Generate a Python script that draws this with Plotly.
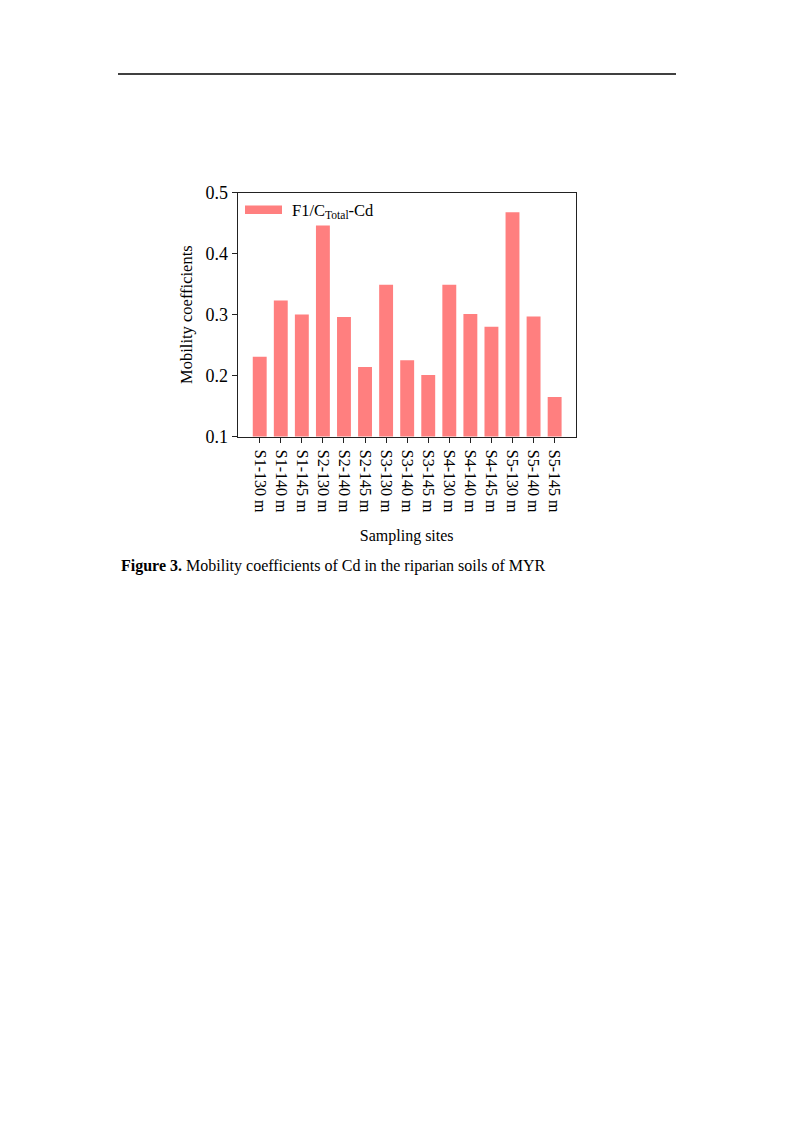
import plotly.graph_objects as go

sites = ["S1-130 m", "S1-140 m", "S1-145 m", "S2-130 m", "S2-140 m", "S2-145 m",
         "S3-130 m", "S3-140 m", "S3-145 m", "S4-130 m", "S4-140 m", "S4-145 m",
         "S5-130 m", "S5-140 m", "S5-145 m"]
mobility = [0.231, 0.323, 0.300, 0.446, 0.296, 0.214,
            0.349, 0.225, 0.201, 0.349, 0.301, 0.280,
            0.468, 0.297, 0.165]
y_ticks = [0.1, 0.2, 0.3, 0.4, 0.5]

BAR = "#FF7F7F"
AXIS = "#222222"
FONT = "Liberation Serif, Times New Roman, serif"

# keep the figure inside the 793x1122 window (page body adds a margin)
OFF_X = 8
W, H = 793 - 16, 1122 - 16


def px(x):
    return (x - OFF_X) / W


def py(y):
    # observed vertical placement: page_y ~= 17 + 0.984 * figure_y
    f = (y - 17) / 0.984
    return 1 - f / H


fig = go.Figure()
fig.add_trace(go.Bar(
    x=list(range(len(sites))), y=mobility, base=0,
    marker=dict(color=BAR, line=dict(width=0)),
    width=0.66, showlegend=False, name="F1/C<sub>Total</sub>-Cd"))

fig.update_layout(
    width=W, height=H,
    margin=dict(l=0, r=0, t=0, b=0),
    paper_bgcolor="white", plot_bgcolor="white",
    font=dict(family=FONT, size=16, color="black"),
    xaxis=dict(
        domain=[px(237.7), px(575.7)], range=[-1.045, 15.0],
        tickmode="array", tickvals=list(range(len(sites))), ticktext=sites,
        tickangle=90, ticks="outside", ticklen=5, tickwidth=1, tickcolor=AXIS,
        ticklabelstandoff=4,
        showline=True, linecolor=AXIS, linewidth=1, mirror=True,
        showgrid=False, zeroline=False,
        tickfont=dict(family=FONT, size=16),
        title=dict(text="Sampling sites", font=dict(family=FONT, size=16), standoff=17),
    ),
    yaxis=dict(
        domain=[py(436.5), py(192)], range=[0.1, 0.5],
        tickmode="array", tickvals=y_ticks, ticktext=[f"{v:.1f}" for v in y_ticks],
        ticks="outside", ticklen=5, tickwidth=1, tickcolor=AXIS,
        showline=True, linecolor=AXIS, linewidth=1, mirror=True,
        showgrid=False, zeroline=False,
        tickfont=dict(family=FONT, size=18),
        title=dict(text="Mobility coefficients", font=dict(family=FONT, size=16.5), standoff=8),
    ),
    shapes=[
        # header rule
        dict(type="line", xref="paper", yref="paper",
             x0=px(118), x1=px(676), y0=py(73), y1=py(73),
             line=dict(color="black", width=1.5)),
        # legend swatch
        dict(type="rect", xref="paper", yref="paper",
             x0=px(245), x1=px(282), y0=py(213.5), y1=py(205),
             fillcolor=BAR, line=dict(width=0)),
    ],
    annotations=[
        dict(text="F1/C<sub>Total</sub>-Cd", xref="paper", yref="paper",
             x=px(290), y=py(210), xanchor="left", yanchor="middle",
             showarrow=False, font=dict(family=FONT, size=16.5)),
        dict(text="<b>Figure 3.</b> Mobility coefficients of Cd in the riparian soils of MYR",
             xref="paper", yref="paper", x=px(119), y=py(566),
             xanchor="left", yanchor="middle", showarrow=False,
             font=dict(family=FONT, size=16)),
    ],
)

fig.write_html("out.html")
